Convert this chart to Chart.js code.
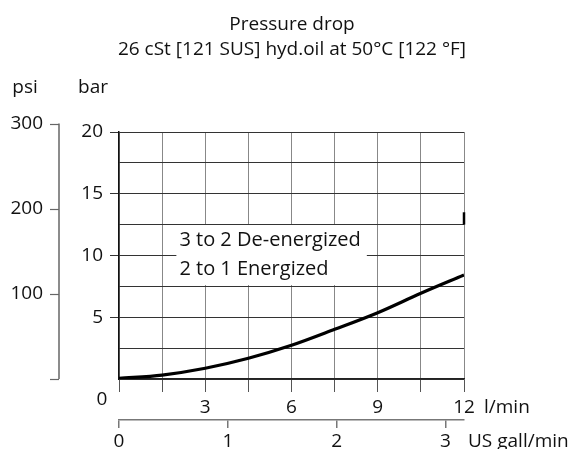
<!DOCTYPE html>
<html><head><meta charset="utf-8">
<script src="https://cdn.jsdelivr.net/npm/chart.js@4"></script>
<style>html,body{margin:0;padding:0;background:#fff}#wrap{width:575px;height:449px;position:relative}</style>
</head><body><div id="wrap"><canvas id="c" width="575" height="449"></canvas></div>
<script>
// ---- data ----
const flowLpm = [0, 1.5, 3, 4.5, 6, 7.5, 9, 10.5, 12];
const pressureBar = [0.05, 0.32, 0.87, 1.68, 2.73, 4.02, 5.37, 6.94, 8.42];
const flowGridTicks = [0, 1.5, 3, 4.5, 6, 7.5, 9, 10.5, 12];
const flowTickLabels = [3, 6, 9, 12];
const barGridTicks = [0, 2.5, 5, 7.5, 10, 12.5, 15, 17.5, 20];
const barTickLabels = [5, 10, 15, 20];
const galTicks = [0, 1, 2, 3];
const psiTicks = [0, 100, 200, 300];
const psiTickLabels = [100, 200, 300];
const edgeMarkFlow = [12, 12];
const edgeMarkBar = [12.5, 13.5];
const titleLines = ['Pressure drop', '26 cSt [121 SUS] hyd.oil at 50°C [122 °F]'];
const noteLines = ['3 to 2 De-energized', '2 to 1 Energized'];
const noteAnchor = [2.1, 10.77, 8.42]; // flow, bar (baseline line1), bar (baseline line2)
const LPM_PER_GAL = 3.78541;
const PSI_PER_BAR = 14.5038;

const FONT = '"Open Sans", "Noto Sans", sans-serif';
const FS = 19;

const decor = {
  id: 'decor',
  beforeDatasetsDraw(chart) {
    const ctx = chart.ctx, x = chart.scales.x, y = chart.scales.y;
    ctx.save();
    ctx.font = '20px ' + FONT;
    const tx = x.getPixelForValue(noteAnchor[0]);
    const b1 = y.getPixelForValue(noteAnchor[1]);
    const b2 = y.getPixelForValue(noteAnchor[2]);
    const w = Math.max(...noteLines.map(t => ctx.measureText(t).width));
    ctx.fillStyle = '#fff';
    ctx.fillRect(tx - 3, b1 - 21, w + 9, (b2 + 10) - (b1 - 21));
    ctx.fillStyle = '#111';
    ctx.textAlign = 'left'; ctx.textBaseline = 'alphabetic';
    ctx.fillText(noteLines[0], tx, b1);
    ctx.fillText(noteLines[1], tx, b2);
    ctx.restore();
  },
  afterDraw(chart) {
    const ctx = chart.ctx, x = chart.scales.x, y = chart.scales.y;
    ctx.save();
    ctx.font = FS + 'px ' + FONT;
    ctx.fillStyle = '#111';
    ctx.textBaseline = 'alphabetic';
    ctx.textAlign = 'center';
    ctx.fillText(titleLines[0], 292, 30);
    ctx.fillText(titleLines[1], 292, 55);
    ctx.fillText('psi', 25, 93);
    ctx.fillText('bar', 93, 93);
    // psi axis
    const ax = 59;
    const pTop = y.getPixelForValue(psiTicks[psiTicks.length - 1] / PSI_PER_BAR);
    const pBot = y.getPixelForValue(0);
    ctx.strokeStyle = '#666'; ctx.lineWidth = 1.5;
    ctx.beginPath(); ctx.moveTo(ax, pTop); ctx.lineTo(ax, pBot); ctx.stroke();
    ctx.lineWidth = 1.2;
    psiTicks.forEach(p => {
      const py = Math.round(y.getPixelForValue(p / PSI_PER_BAR)) + 0.5;
      ctx.beginPath(); ctx.moveTo(ax - 9, py); ctx.lineTo(ax, py); ctx.stroke();
    });
    ctx.textAlign = 'right';
    psiTickLabels.forEach(p => ctx.fillText(String(p), 43, y.getPixelForValue(p / PSI_PER_BAR) + 5));
    // origin label
    ctx.textAlign = 'center';
    ctx.fillText('0', 102, 405);
    // unit labels
    ctx.textAlign = 'left';
    ctx.fillText('l/min', 484, 413);
    ctx.fillText('US gall/min', 468, 447);
    ctx.restore();
  }
};

new Chart(document.getElementById('c'), {
  type: 'scatter',
  data: {
    datasets: [
      {
        data: flowLpm.map((f, i) => ({ x: f, y: pressureBar[i] })),
        showLine: true, borderColor: '#000', borderWidth: 3.2, pointRadius: 0,
        cubicInterpolationMode: 'monotone', fill: false
      },
      {
        data: edgeMarkFlow.map((f, i) => ({ x: f, y: edgeMarkBar[i] })),
        showLine: true, borderColor: '#000', borderWidth: 2.5, pointRadius: 0,
        clip: false
      }
    ]
  },
  options: {
    responsive: false, animation: false,
    layout: { padding: { top: 132, right: 111, left: 0, bottom: 0 } },
    plugins: { legend: { display: false }, tooltip: { enabled: false }, title: { display: false } },
    scales: {
      x: {
        type: 'linear', position: 'bottom', min: 0, max: 12, weight: 0,
        afterBuildTicks: s => { s.ticks = flowGridTicks.map(v => ({ value: v })); },
        afterFit: s => { s.height = 41; },
        grid: { color: '#888', lineWidth: 1, tickLength: 13, tickColor: '#555' },
        border: { color: '#222', width: 1.5 },
        ticks: {
          font: { family: FONT, size: FS }, color: '#111', padding: 4, maxRotation: 0, autoSkip: false,
          callback: v => flowTickLabels.includes(v) ? String(v) : ''
        }
      },
      x2: {
        type: 'linear', position: 'bottom', min: 0, max: 12 / LPM_PER_GAL, weight: 1,
        afterBuildTicks: s => { s.ticks = galTicks.map(v => ({ value: v })); },
        afterFit: s => { s.height = 29; },
        grid: { drawOnChartArea: false, color: '#777', tickLength: 8, lineWidth: 1.5 },
        border: { color: '#777', width: 1.5 },
        ticks: {
          font: { family: FONT, size: FS }, color: '#111', padding: 2, maxRotation: 0, autoSkip: false,
          callback: v => String(v)
        }
      },
      y: {
        type: 'linear', position: 'left', min: 0, max: 20,
        afterBuildTicks: s => { s.ticks = barGridTicks.map(v => ({ value: v })); },
        afterFit: s => { s.width = 119; },
        grid: {
          color: '#333', lineWidth: 1, tickLength: 9,
          tickColor: c => (c.tick && barTickLabels.includes(c.tick.value)) ? '#333' : 'rgba(0,0,0,0)'
        },
        border: { color: '#111', width: 1.5 },
        ticks: {
          font: { family: FONT, size: FS }, color: '#111', padding: 7, autoSkip: false,
          callback: v => barTickLabels.includes(v) ? String(v) : ''
        }
      }
    }
  },
  plugins: [decor]
});
</script>
</body></html>
